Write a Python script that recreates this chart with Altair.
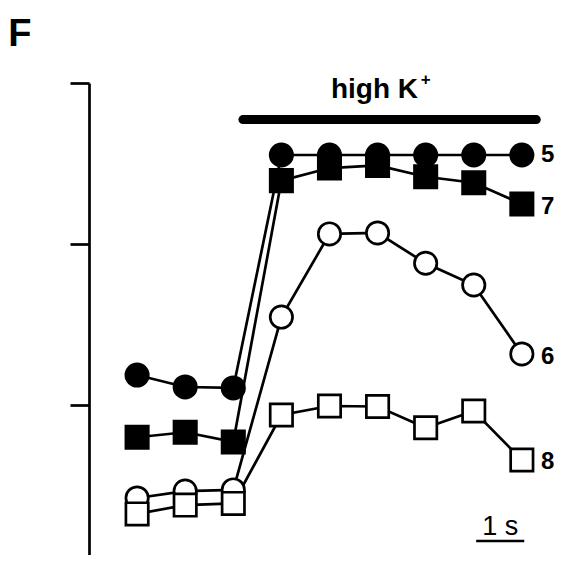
import altair as alt
import pandas as pd

# ---- data ----
time_s = [0, 1, 2, 3, 4, 5, 6, 7, 8]
series_names = ["6", "8", "5", "7"]          # drawing order (open first)
val_5 = [1.187, 1.113, 1.107, 2.553, 2.553, 2.553, 2.553, 2.553, 2.553]
val_7 = [0.801, 0.832, 0.772, 2.394, 2.472, 2.488, 2.418, 2.381, 2.249]
val_6 = [0.424, 0.467, 0.474, 1.547, 2.063, 2.069, 1.881, 1.746, 1.318]
val_8 = [0.325, 0.380, 0.390, 0.939, 0.995, 0.992, 0.860, 0.964, 0.660]
marker_shapes = ["circle", "square", "circle", "square"]
marker_fills = ["white", "white", "black", "black"]
label_values = [1.299, 0.649, 2.553, 2.230]
y_ticks = [1, 2, 3]
stim_window = [2.2, 8.3]
stim_level = 2.773
scale_bar = [7.05, 8.05]
scale_bar_level = 0.157

values = {"5": val_5, "7": val_7, "6": val_6, "8": val_8}
rows = []
for s in series_names:
    for t, v in zip(time_s, values[s]):
        rows.append({"t": t, "v": v, "series": s})
df = pd.DataFrame(rows)

FONT = "Liberation Sans"
xs = alt.Scale(domain=[-1, 8.71], nice=False, zero=False)
ys = alt.Scale(domain=[0.07, 3.0], nice=False, zero=False)

yaxis = alt.Axis(values=y_ticks, labels=False, title=None, grid=False,
                 tickSize=19, tickWidth=2.7, tickColor="black",
                 domainWidth=2.7, domainColor="black")

X = alt.X("t:Q", scale=xs, axis=None)
Y = alt.Y("v:Q", scale=ys, axis=yaxis)

lines = alt.Chart(df).mark_line(color="black", strokeWidth=2.7).encode(
    x=X, y=Y, detail="series:N", order="t:Q"
)

points = alt.Chart(df).mark_point(size=500, strokeWidth=2.7, opacity=1,
                                  stroke="black", filled=False).encode(
    x=X, y=Y,
    shape=alt.Shape("series:N", scale=alt.Scale(domain=series_names, range=marker_shapes), legend=None),
    fill=alt.Fill("series:N", scale=alt.Scale(domain=series_names, range=marker_fills), legend=None),
)

labels_df = pd.DataFrame({"series": series_names, "v": label_values, "t": [8.40] * 4})
labels = alt.Chart(labels_df).mark_text(font=FONT, fontSize=24, fontWeight="bold",
                                        align="left", baseline="middle", color="black").encode(
    x=X, y=Y, text="series:N"
)

stim_df = pd.DataFrame({"t": [stim_window[0]], "t2": [stim_window[1]], "v": [stim_level]})
stim = alt.Chart(stim_df).mark_rule(color="black", strokeWidth=9, strokeCap="round").encode(
    x=X, x2="t2:Q", y=Y
)

sb_df = pd.DataFrame({"t": [scale_bar[0]], "t2": [scale_bar[1]], "v": [scale_bar_level]})
sbar = alt.Chart(sb_df).mark_rule(color="black", strokeWidth=2.7).encode(
    x=X, x2="t2:Q", y=Y
)

ann_df = pd.DataFrame({
    "label": ["high K", "+", "1 s", "F"],
    "t": [4.03, 6.0, 7.55, -2.68],
    "v": [2.905, 3.019, 0.194, 3.2315],
    "size": [28, 17, 27, 38],
    "weight": ["bold", "bold", "normal", "bold"],
    "align": ["left", "center", "center", "left"],
    "base": ["alphabetic", "middle", "alphabetic", "alphabetic"],
})

def ann(i):
    r = ann_df.iloc[[i]]
    row = ann_df.iloc[i]
    return alt.Chart(r).mark_text(font=FONT, fontSize=int(row["size"]), fontWeight=row["weight"],
                                  align=row["align"], baseline=row["base"], color="black").encode(
        x=X, y=Y, text="label:N"
    )

chart = alt.layer(
    lines, points, labels, stim, sbar, ann(0), ann(1), ann(2), ann(3)
).properties(
    width=467, height=472,
    autosize=alt.AutoSizeParams(type="none"),
    padding={"left": 81, "top": 75, "right": 0, "bottom": 0},
).configure(background="white", view=alt.ViewConfig(stroke=None))

chart.save("out.html", embed_options={"renderer": "svg", "actions": False})
